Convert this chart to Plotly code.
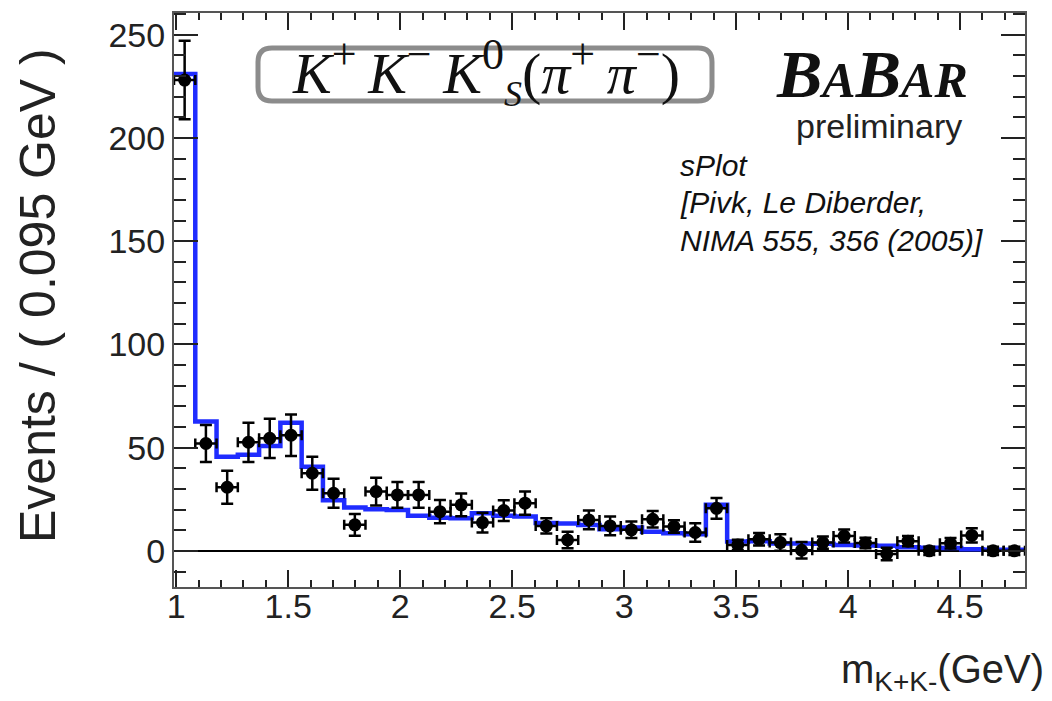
import numpy as np
import plotly.graph_objects as go

# Binning of the K+K- invariant mass spectrum
bin_lo = 0.99
bin_w = 0.095
n_bins = 40

# sPlot-weighted events per bin and their uncertainties
events = [228, 52, 30.8, 52.6, 54.5, 56, 37.6, 27.9, 12.6, 28.7,
          27.1, 27.1, 19, 22.3, 13.7, 19.5, 23.1, 12.1, 5.3, 15,
          12.1, 10.2, 15.3, 11.8, 8.9, 20.6, 2.9, 5.6, 4.0, 0.3,
          4.0, 7.2, 3.8, -1.5, 4.7, 0.0, 3.7, 7.5, 0.0, 0.0]
errors = [19, 9, 8, 9.5, 9.5, 10, 8, 7, 5.3, 6.7,
          6.2, 6.2, 5.6, 5.5, 4.8, 5, 5.6, 3.7, 4, 4.5,
          4.5, 4, 4, 3, 4.5, 5, 2.5, 3, 4, 4,
          3, 3.2, 2.5, 3, 2.5, 2, 2.5, 3.5, 2, 2]

# Fit projection per bin
fit = [231, 62.6, 45.6, 46.5, 50.8, 62.1, 40.8, 24.5, 21.0, 20.2,
       19.8, 17.0, 16.0, 15.8, 18.2, 17.0, 16.7, 13.5, 13.2, 12.5,
       10.5, 11.3, 9.3, 8.5, 8.1, 22.3, 4.5, 4.6, 3.6, 3.6,
       3.4, 2.8, 2.6, 2.5, 1.8, 1.5, 1.4, 0.8, 0.6, 0.5]

edges = bin_lo + bin_w * np.arange(n_bins + 1)
centers = edges[:-1] + bin_w / 2

W, H = 1052, 701
ML, MR, MT, MB = 174, 27, 13, 114
PW, PH = W - ML - MR, H - MT - MB


def px(x):
    return (x - ML) / PW


def py(y):
    return (H - MB - y) / PH


AX_FONT = "Liberation Sans, Arial, sans-serif"
SERIF = "Liberation Serif, Times New Roman, serif"

fig = go.Figure()

# fitted step histogram
fig.add_trace(go.Scatter(
    x=edges, y=fit + [fit[-1]], mode="lines", line_shape="hv",
    line=dict(color="#1f2cff", width=4.5), hoverinfo="skip", showlegend=False,
))

# data points with error bars
fig.add_trace(go.Scatter(
    x=centers, y=events, mode="markers",
    marker=dict(color="black", size=13),
    error_y=dict(type="data", array=errors, color="black", thickness=2.5, width=6),
    error_x=dict(type="constant", value=bin_w / 2, color="black", thickness=2.5, width=5),
    showlegend=False,
))

axis_common = dict(
    showgrid=False, showline=True, linecolor="#555555", linewidth=2,
    mirror="allticks", ticks="inside", tickwidth=2, tickcolor="#222222",
    tickfont=dict(family=AX_FONT, size=34, color="#222222"),
)

fig.update_xaxes(
    range=[bin_lo, bin_lo + n_bins * bin_w], tickmode="linear", tick0=1, dtick=0.5,
    ticklen=17, zeroline=False, ticklabelstandoff=-12,
    minor=dict(tick0=1, dtick=0.1, ticklen=7, ticks="inside", tickcolor="#222222", tickwidth=2),
    **axis_common,
)
fig.update_yaxes(
    range=[-17.5, 260.5], tickmode="linear", tick0=0, dtick=50,
    ticklen=24, zeroline=True, zerolinecolor="black", zerolinewidth=2,
    minor=dict(tick0=0, dtick=10, ticklen=12, ticks="inside", tickcolor="#222222", tickwidth=2),
    **axis_common,
)

# rounded frame around the channel label
x0, x1, y0, y1 = px(258), px(712), py(101), py(48)
rx, ry = 14 / PW, 14 / PH
path = (f"M {x0+rx},{y1} L {x1-rx},{y1} Q {x1},{y1} {x1},{y1-ry} "
        f"L {x1},{y0+ry} Q {x1},{y0} {x1-rx},{y0} L {x0+rx},{y0} "
        f"Q {x0},{y0} {x0},{y0+ry} L {x0},{y1-ry} Q {x0},{y1} {x0+rx},{y1} Z")
fig.add_shape(type="path", path=path, xref="paper", yref="paper",
              line=dict(color="#8c8c8c", width=5), fillcolor="white", layer="above")

SUP = "<sup><span style='font-size:44px'>{}</span></sup>"
SUB = "<sub><span style='font-size:36px'>{}</span></sub>"
channel = ("<i>K</i>" + SUP.format("+") + "\u2009<i>K</i>" + SUP.format("−")
           + "\u2009<i>K</i>" + SUP.format("0") + SUB.format("<i>S</i>")
           + "(<i>π</i>" + SUP.format("+") + "\u2009<i>π</i>" + SUP.format("−") + ")")

annotations = [
    dict(x=px(486), y=py(72), text=channel,
         font=dict(family=SERIF, size=58, color="#111111"), xanchor="center", yanchor="middle"),
    dict(x=px(872), y=py(74),
         text="<b><i>B<span style='font-size:50px'>A</span>B<span style='font-size:50px'>AR</span></i></b>",
         font=dict(family=SERIF, size=68, color="#111111"), xanchor="center", yanchor="middle"),
    dict(x=px(879), y=py(126), text="preliminary",
         font=dict(family=AX_FONT, size=34, color="#222222"), xanchor="center", yanchor="middle"),
    dict(x=px(678), y=py(165), text="<i>sPlot</i>",
         font=dict(family=AX_FONT, size=30, color="#111111"), xanchor="left", yanchor="middle"),
    dict(x=px(678), y=py(203), text="<i>[Pivk, Le Diberder,</i>",
         font=dict(family=AX_FONT, size=30, color="#111111"), xanchor="left", yanchor="middle"),
    dict(x=px(678), y=py(241), text="<i>NIMA 555, 356 (2005)]</i>",
         font=dict(family=AX_FONT, size=30, color="#111111"), xanchor="left", yanchor="middle"),
    dict(x=px(38), y=py(296), text="Events / ( 0.095 GeV )", textangle=-90,
         font=dict(family=AX_FONT, size=50, color="#222222"), xanchor="center", yanchor="middle"),
    dict(x=px(1046), y=py(672),
         text="m<sub>K+K-</sub>(GeV)",
         font=dict(family=AX_FONT, size=40, color="#222222"), xanchor="right", yanchor="middle"),
]
for a in annotations:
    a.update(xref="paper", yref="paper", showarrow=False)

fig.update_layout(
    width=W, height=H, margin=dict(l=ML, r=MR, t=MT, b=MB),
    paper_bgcolor="white", plot_bgcolor="white",
    annotations=annotations, showlegend=False,
)

fig.write_html("out.html")
